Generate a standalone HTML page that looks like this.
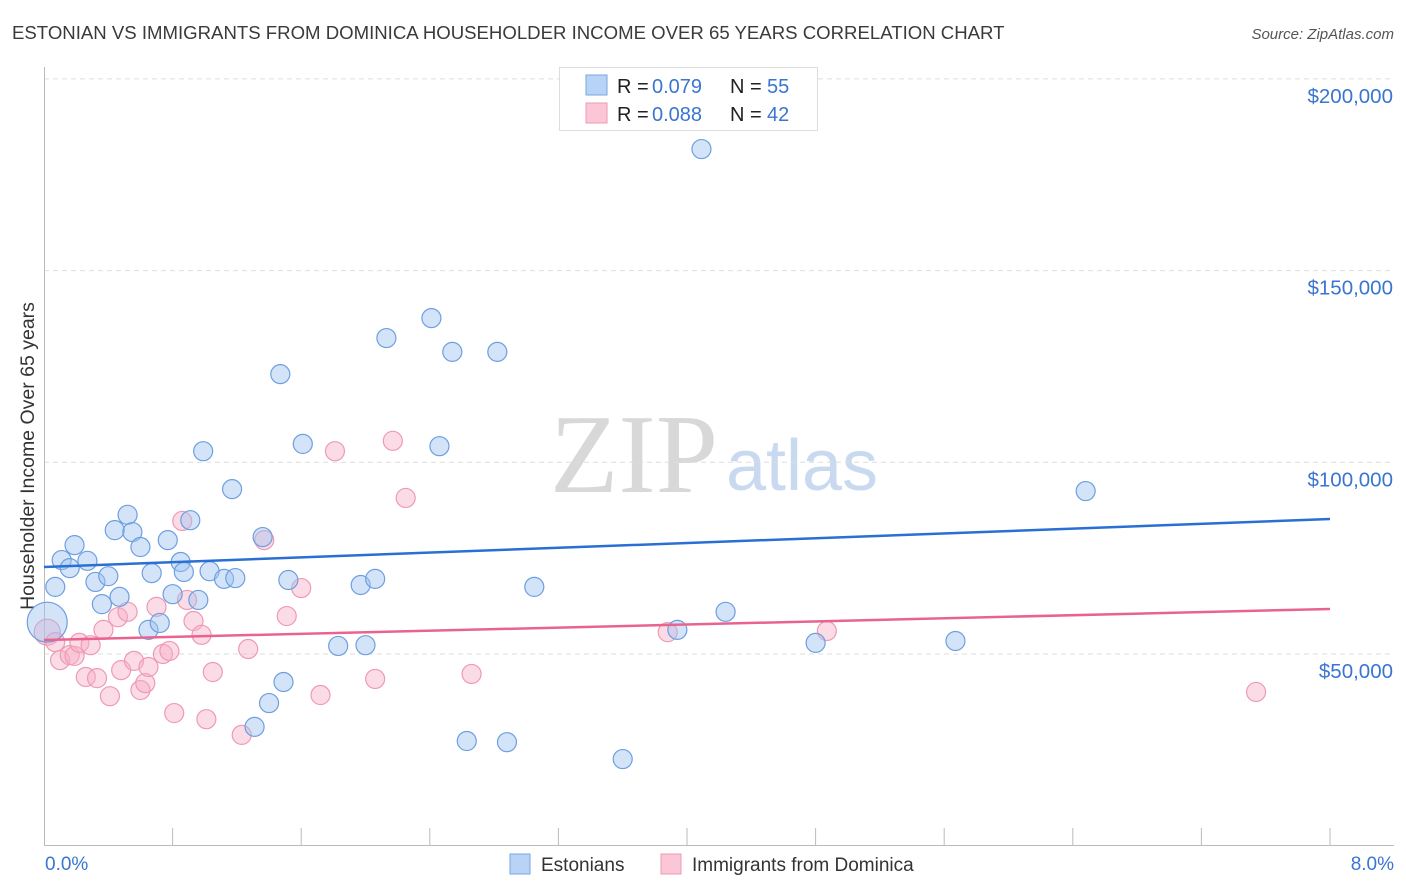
<!DOCTYPE html>
<html><head><meta charset="utf-8"><style>
body{margin:0;background:#fff;font-family:"Liberation Sans",sans-serif;}
svg{display:block}
</style></head><body>
<svg id="chart" width="1406" height="892" xmlns="http://www.w3.org/2000/svg">
<text x="12" y="39" font-size="18.6" fill="#3a3a3a">ESTONIAN VS IMMIGRANTS FROM DOMINICA HOUSEHOLDER INCOME OVER 65 YEARS CORRELATION CHART</text>
<text x="1394" y="39" font-size="15" font-style="italic" fill="#555" text-anchor="end">Source: ZipAtlas.com</text>
<text transform="translate(34,456) rotate(-90)" font-size="19.5" fill="#333" text-anchor="middle">Householder Income Over 65 years</text>
<g>
<text x="634" y="492" font-family="Liberation Serif,serif" font-size="112" fill="#d8d8d8" text-anchor="middle">ZIP</text>
<text x="802" y="490" font-size="72" fill="#c9daf0" text-anchor="middle">atlas</text>
</g>
<g id="grid"></g><g id="axes"></g><g id="marks"></g>
<g>
<rect x="559.5" y="67.5" width="258" height="63" fill="#fff" stroke="#ddd"/>
<rect x="586" y="75" width="21" height="20" fill="#b7d3f5" stroke="#7ba6e0"/>
<rect x="586" y="103" width="21" height="20" fill="#fbc7d6" stroke="#ef9ab5"/>
<text y="93" font-size="20" fill="#222"><tspan x="617">R =</tspan><tspan x="652" fill="#3a75cf">0.079</tspan><tspan x="730">N =</tspan><tspan x="767" fill="#3a75cf">55</tspan></text>
<text y="121" font-size="20" fill="#222"><tspan x="617">R =</tspan><tspan x="652" fill="#3a75cf">0.088</tspan><tspan x="730">N =</tspan><tspan x="767" fill="#3a75cf">42</tspan></text>
</g>
<g>
<rect x="510" y="854" width="20" height="20" fill="#b7d3f5" stroke="#7ba6e0"/>
<text x="541" y="871" font-size="19" fill="#333">Estonians</text>
<rect x="661" y="854" width="20" height="20" fill="#fbc7d6" stroke="#ef9ab5"/>
<text x="692" y="871" font-size="19" fill="#333">Immigrants from Dominica</text>
</g>
</svg>
<script>
const blueX=[0.07,0.11,0.16,0.19,0.27,0.32,0.36,0.40,0.44,0.47,0.52,0.55,0.60,0.65,0.67,0.72,0.77,0.80,0.85,0.87,0.91,0.96,0.99,1.03,1.12,1.17,1.19,1.31,1.36,1.40,1.47,1.49,1.52,1.61,1.83,1.97,2.00,2.06,2.13,2.41,2.46,2.54,2.63,2.82,2.88,3.05,3.60,3.94,4.09,4.24,4.80,5.67,6.48,0.02];
const blueY=[67.5,74.5,72.4,78.4,74.3,68.8,63.0,70.3,82.3,64.9,86.3,81.8,77.9,56.3,71.1,58.1,79.7,65.6,74.0,71.4,84.9,64.1,102.9,71.6,69.6,93.0,69.8,31.0,80.5,37.2,123.0,42.7,69.3,104.8,52.1,68.0,52.3,69.6,132.4,137.6,104.2,128.8,27.3,128.8,27.0,67.5,22.6,56.3,181.7,61.0,52.9,53.4,92.5,58.3];
const pinkX=[0.02,0.07,0.10,0.16,0.19,0.22,0.26,0.29,0.33,0.37,0.41,0.46,0.48,0.52,0.56,0.60,0.63,0.65,0.70,0.74,0.78,0.81,0.86,0.89,0.93,0.98,1.01,1.05,1.23,1.27,1.37,1.51,1.60,1.72,1.81,2.06,2.17,2.25,2.66,3.88,4.87,7.54];
const pinkY=[55.7,53.1,48.4,49.7,49.5,52.9,44.0,52.3,43.7,56.3,39.0,59.6,45.8,61.0,48.2,40.6,42.4,46.6,62.3,50.0,50.8,34.6,84.7,64.1,58.6,55.0,33.0,45.3,28.9,51.3,79.7,59.9,67.2,39.3,102.9,43.5,105.6,90.7,44.8,55.7,56.0,40.1];
const blueTrend=[72.7,85.2];
const pinkTrend=[53.65,61.74];
const yTicks=[50,100,150,200];
const xTickCount=10;
const xLabels=["0.0%","8.0%"];

const NS="http://www.w3.org/2000/svg";
const X0=44,X1=1330,XMAX=8;
const sx=v=>X0+(v/XMAX)*(X1-X0);
const sy=v=>654-(v-50)*191.7/50;
function mk(tag,attrs,parent){const e=document.createElementNS(NS,tag);for(const k in attrs)e.setAttribute(k,attrs[k]);parent.appendChild(e);return e;}
const grid=document.getElementById('grid'),axes=document.getElementById('axes'),marks=document.getElementById('marks');
yTicks.forEach(t=>{
  const l=mk('line',{x1:44,x2:1394,y1:sy(t),y2:sy(t),stroke:'#ddd','stroke-dasharray':'5,4'},grid);
  
  
  const tx=mk('text',{x:1393,y:sy(t)+24,'font-size':20.5,fill:'#3a75cf','text-anchor':'end'},axes);
  tx.textContent='$'+(t*1000).toLocaleString('en-US');
  
  
});
let a=mk('line',{x1:44.5,x2:44.5,y1:67,y2:846,stroke:'#bbb'},axes);


a=mk('line',{x1:44,x2:1394,y1:845.5,y2:845.5,stroke:'#bbb'},axes);


for(let i=1;i<=xTickCount;i++){
  const x=sx(i*XMAX/xTickCount);
  const t=mk('line',{x1:x,x2:x,y1:828,y2:846,stroke:'#bbb'},axes);
  
  
}
let xl=mk('text',{x:45,y:870,'font-size':19,fill:'#3a75cf'},axes);xl.textContent=xLabels[0];


xl=mk('text',{x:1394,y:870,'font-size':19,fill:'#3a75cf','text-anchor':'end'},axes);xl.textContent=xLabels[1];



function pts(xs,ys,fill,stroke,name){
  xs.forEach((x,i)=>{
    const big=(x<0.05);
    const r= name==='estonian' && big ? 20 : (big?13:9.5);
    const c=mk('circle',{cx:sx(x),cy:sy(ys[i]),r:r,fill:fill,stroke:stroke,'stroke-width':1.2},marks);
    
    
  });
}
pts(pinkX,pinkY,'rgba(246,176,198,0.45)','#ef9ab5','dominica');
pts(blueX,blueY,'rgba(160,196,240,0.45)','#6d9fe0','estonian');
let tl=mk('line',{x1:sx(0),x2:sx(XMAX),y1:sy(blueTrend[0]),y2:sy(blueTrend[1]),stroke:'#2a6fd4','stroke-width':2.5},marks);


tl=mk('line',{x1:sx(0),x2:sx(XMAX),y1:sy(pinkTrend[0]),y2:sy(pinkTrend[1]),stroke:'#e8648f','stroke-width':2.5},marks);


</script>
</body></html>
